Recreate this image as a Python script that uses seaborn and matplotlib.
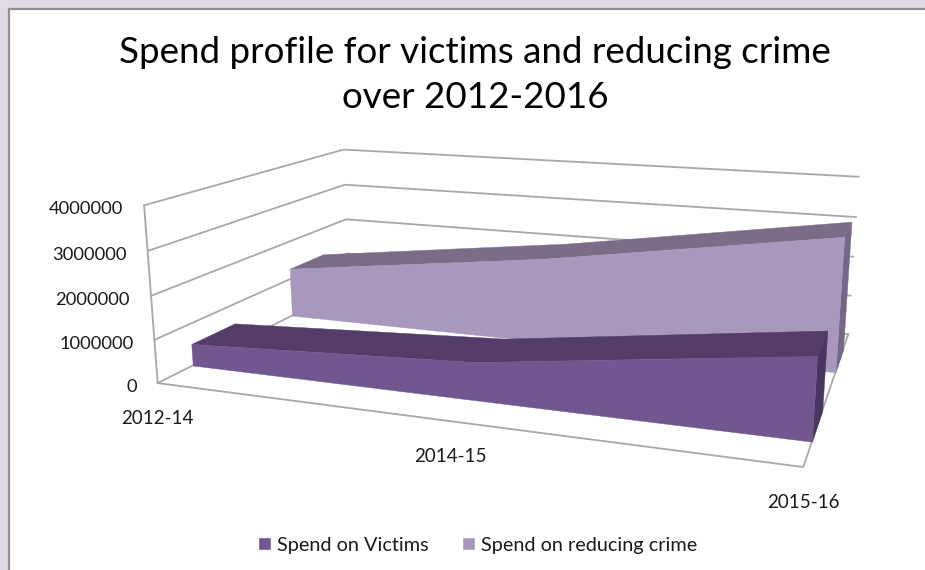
import matplotlib
matplotlib.use('Agg')
import matplotlib.pyplot as plt
from matplotlib.patches import Patch, Rectangle
from mpl_toolkits.mplot3d import proj3d
from mpl_toolkits.mplot3d.art3d import Poly3DCollection
import seaborn as sns

# Spend figures by period
periods = ['2012-14', '2014-15', '2015-16']
spend_victims = [520000, 850000, 1740000]
spend_crime = [1280000, 2100000, 3150000]
z_ticks = [0, 1000000, 2000000, 3000000, 4000000]
title = 'Spend profile for victims and reducing crime\nover 2012-2016'
name_victims = 'Spend on Victims'
name_crime = 'Spend on reducing crime'

sns.set_theme(style='white')
plt.rcParams['font.family'] = ['Lato', 'DejaVu Sans']

W, H = 925, 570
SIDE = 900
CX, CY = 512.9251, 287.1411
TXT = '#1a1a1a'
GRID = '#a8a8a8'

fig = plt.figure(figsize=(W / 100, H / 100), dpi=100, facecolor='#e0d9e6')
fig.add_artist(Rectangle((9 / W, -0.02), 1.02, 1.02 - 9 / H, transform=fig.transFigure,
                         facecolor='white', edgecolor='#8f8f8f', linewidth=1.6, zorder=-5))

ax = fig.add_axes([(CX - SIDE / 2) / W, (H - CY - SIDE / 2) / H, SIDE / W, SIDE / H],
                  projection='3d', computed_zorder=False)
ax.set_facecolor('none')
n = len(periods)
xs = [i / (n - 1) for i in range(n)]
ax.set_xlim(0, 1)
ax.set_ylim(0, 1)
ax.set_zlim(0, z_ticks[-1])
ax.view_init(elev=13.9061, azim=-70.4099, roll=-0.0073)
ax.set_proj_type('persp', focal_length=0.2495)
ax.set_box_aspect((3.516, 2.2549, 1), zoom=0.7965)
ax.set_axis_off()

# Walls and floor
for v in z_ticks:
    ax.plot([0, 0, 1], [0, 1, 1], [v, v, v], color=GRID, lw=1.3, zorder=1)
ax.plot([0, 0], [0, 0], [0, z_ticks[-1]], color=GRID, lw=1.3, zorder=1)
ax.plot([0, 1, 1], [0, 0, 1], [0, 0, 0], color=GRID, lw=1.3, zorder=1)


def ribbon(values, y0, y1, front, top, side, z):
    """Draw one 3D area band running along the category axis."""
    upper = [(x, y0, v) for x, v in zip(xs, values)] + [(x, y1, v) for x, v in zip(xs[::-1], values[::-1])]
    faces = [(side, [(xs[-1], y0, 0), (xs[-1], y1, 0), (xs[-1], y1, values[-1]), (xs[-1], y0, values[-1])]),
             (top, upper),
             (front, [(xs[0], y0, 0)] + [(x, y0, v) for x, v in zip(xs, values)] + [(xs[-1], y0, 0)])]
    for k, (color, poly) in enumerate(faces):
        ax.add_collection3d(Poly3DCollection([poly], facecolor=color, edgecolor=color,
                                             linewidth=0.3, zorder=z + k), autolim=False)


ribbon(spend_crime, 0.645, 0.845, '#a898bc', '#7b6c88', '#75668a', 2)
ribbon(spend_victims, 0.147, 0.347, '#72568f', '#533d68', '#4a3560', 6)


def axis_label(x, y, z, text, offset, ha, size):
    """Place a label at a pixel offset from a projected axis position."""
    px, py, _ = proj3d.proj_transform(x, y, z, ax.get_proj())
    ax.annotate(text, (px, py), xytext=offset, textcoords='offset pixels', ha=ha, va='center',
                fontsize=size, color=TXT, zorder=10, annotation_clip=False)


for v in z_ticks:
    axis_label(0, 0, v, str(v), (-21, -4), 'right', 13.2)
for x, lab in zip(xs, periods):
    axis_label(x, 0, 0, lab, (0, -35), 'center', 13.5)

fig.text(475 / W, 1 - 75 / H, title, ha='center', va='center', fontsize=26.5,
         linespacing=1.44, color='black')
fig.legend(handles=[Patch(facecolor='#72568f', label=name_victims),
                    Patch(facecolor='#a898bc', label=name_crime)],
           loc='center', bbox_to_anchor=(477.5 / W, 1 - 545 / H), ncol=2, frameon=False,
           fontsize=14.3, handlelength=0.65, handleheight=0.65, handletextpad=0.28,
           columnspacing=1.7, labelcolor=TXT)

fig.savefig('out.png', dpi=100)
